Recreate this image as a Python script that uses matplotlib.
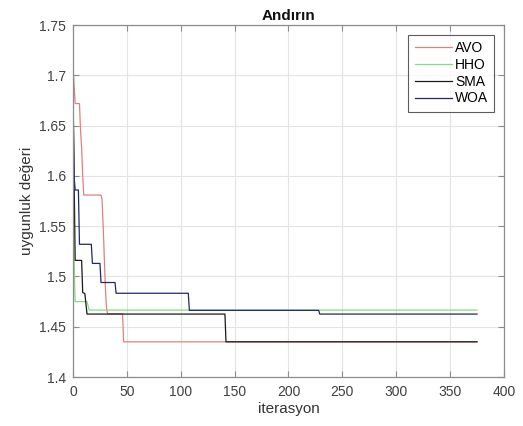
import matplotlib
matplotlib.use('Agg')
import matplotlib.pyplot as plt

# convergence curves (iteration, fitness at that point)
avo_x = [0, 1, 2, 6, 7, 8, 9, 10, 26, 27, 28, 29, 30, 31, 32, 46, 47, 375]
avo_y = [1.709, 1.690, 1.672, 1.672, 1.645, 1.628, 1.600, 1.581, 1.581, 1.576,
         1.550, 1.520, 1.490, 1.470, 1.463, 1.463, 1.435, 1.435]

hho_x = [0, 1, 2, 13, 15, 375]
hho_y = [1.680, 1.516, 1.475, 1.475, 1.4666, 1.4666]

sma_x = [0, 1, 2, 8, 9, 11, 13, 141, 142, 375]
sma_y = [1.684, 1.600, 1.516, 1.516, 1.484, 1.483, 1.4626, 1.4626, 1.435, 1.435]

woa_x = [0, 1, 2, 5, 6, 17, 18, 25, 26, 39, 40, 107, 108, 228, 229, 375]
woa_y = [1.680, 1.600, 1.586, 1.586, 1.532, 1.532, 1.513, 1.513, 1.494, 1.494,
         1.4833, 1.4833, 1.4663, 1.4663, 1.4626, 1.4626]

series_names = ['AVO', 'HHO', 'SMA', 'WOA']
series_colors = ['#e08080', '#86da86', '#1a1a1a', '#23276a']

x_ticks = [0, 50, 100, 150, 200, 250, 300, 350, 400]
y_ticks = [1.4, 1.45, 1.5, 1.55, 1.6, 1.65, 1.7, 1.75]

plt.rcParams['font.family'] = ['Liberation Sans', 'DejaVu Sans']

fig = plt.figure(figsize=(5.23, 4.26), dpi=100)
ax = fig.add_axes([0.1396, 0.115, 0.824, 0.826])

curves = [(avo_x, avo_y), (hho_x, hho_y), (sma_x, sma_y), (woa_x, woa_y)]
for (xs, ys), name, col in zip(curves, series_names, series_colors):
    ax.plot(xs, ys, color=col, linewidth=0.9, label=name)

ax.set_xlim(0, 400)
ax.set_ylim(1.4, 1.75)
ax.set_xticks(x_ticks)
ax.set_yticks(y_ticks)
ax.set_xticklabels([str(t) for t in x_ticks])
ax.set_yticklabels([f'{t:g}' for t in y_ticks])

ax.grid(True, color='#e3e3e3', linewidth=0.8)
ax.set_axisbelow(True)
ax.tick_params(direction='in', top=True, right=True, length=4, width=0.8,
               colors='#8c8c8c', labelcolor='#404040', labelsize=10)
ax.tick_params(axis='x', pad=6)
ax.tick_params(axis='y', pad=5)
for sp in ax.spines.values():
    sp.set_color('#8c8c8c')
    sp.set_linewidth(0.9)

ax.set_title('Andırın', fontsize=11, fontweight='bold', color='#111111', pad=4)
ax.set_xlabel('iterasyon', fontsize=11, color='#333333', labelpad=2)
ax.set_ylabel('uygunluk değeri', fontsize=11, color='#333333', labelpad=4)

leg = ax.legend(loc='upper right', fontsize=10, frameon=True, fancybox=False,
                handlelength=2.7, borderaxespad=0.7, labelspacing=0.2,
                handletextpad=0.2, borderpad=0.45)
leg.get_frame().set_edgecolor('#333333')
leg.get_frame().set_linewidth(0.8)

plt.savefig('out.png', dpi=100)
plt.close()
